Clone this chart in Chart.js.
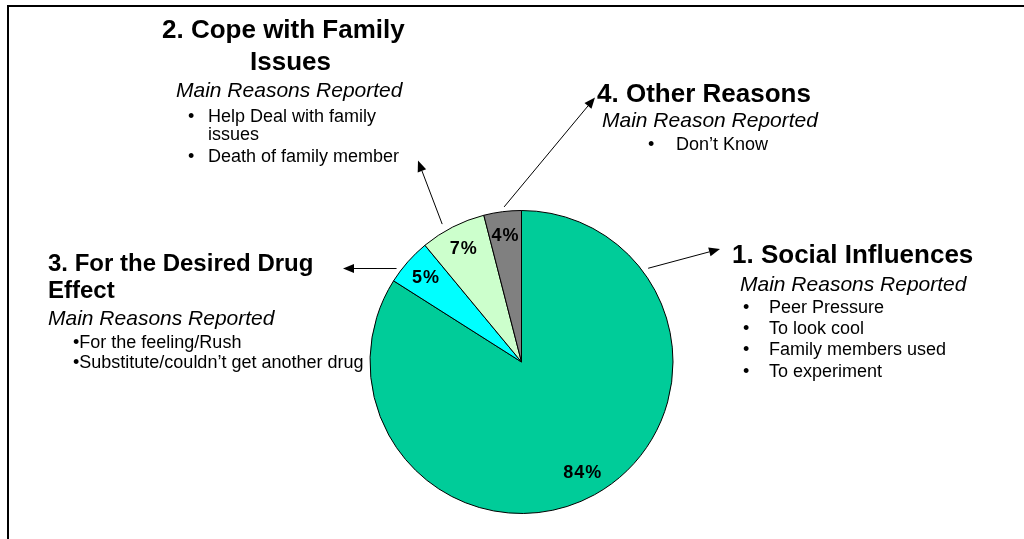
<!DOCTYPE html>
<html>
<head>
<meta charset="utf-8">
<script src="https://cdn.jsdelivr.net/npm/chart.js@4.4.1/dist/chart.umd.min.js"></script>
<style>
  body { margin: 0; background: #fff; font-family: "Liberation Sans", Arial, sans-serif; }
  #wrap { position: relative; width: 1024px; height: 539px; overflow: hidden; }
  #frame { position: absolute; left: 7px; top: 5px; width: 1100px; height: 600px; border-left: 2px solid #000; border-top: 2px solid #000; }
  #chart { position: absolute; left: 0; top: 0; }
  .t { position: absolute; white-space: nowrap; line-height: 1; color: #000; }
  .b { font-weight: bold; }
  .i { font-style: italic; }
</style>
</head>
<body>
<div id="wrap">
  <div id="frame"></div>
  <canvas id="chart" width="1024" height="539"></canvas>
  <div id="notes"></div>
</div>
<script>
// pie data (clockwise from 12 o'clock)
const categories = ['Social Influences', 'For the Desired Drug Effect', 'Cope with Family Issues', 'Other Reasons'];
const shares = [84, 5, 7, 4];
const sliceColors = ['#00CC99', '#00FFFF', '#CCFFCC', '#808080'];

// callout arrows: start angle on the pie (deg clockwise from top), radius factor, tip x/y
const arrowAngles = [53.5, 306.8, 330.1, 353.6];
const arrowRadius = [1.04, 1.03, 1.05, 1.03];
const arrowTips = [[720, 249], [343, 268.5], [418, 160.5], [595, 97.5]];

// callout text lines: [text, left, baseline, size, style]
const noteLines = [
  ['2. Cope with Family', 162, 38, 26, 'b'],
  ['Issues', 250, 70, 26, 'b'],
  ['Main Reasons Reported', 176, 97, 21, 'i'],
  ['•', 188, 122, 18, ''],
  ['Help Deal with family', 208, 122, 18, ''],
  ['issues', 208, 140, 18, ''],
  ['•', 188, 162, 18, ''],
  ['Death of family member', 208, 162, 18, ''],

  ['4. Other Reasons', 597, 102, 26, 'b'],
  ['Main Reason Reported', 602, 127, 21, 'i'],
  ['•', 648, 150, 18, ''],
  ['Don’t Know', 676, 150, 18, ''],

  ['1. Social Influences', 732, 263, 26, 'b'],
  ['Main Reasons Reported', 740, 291, 21, 'i'],
  ['•', 743, 313, 18, ''],
  ['Peer Pressure', 769, 313, 18, ''],
  ['•', 743, 334, 18, ''],
  ['To look cool', 769, 334, 18, ''],
  ['•', 743, 355, 18, ''],
  ['Family members used', 769, 355, 18, ''],
  ['•', 743, 377, 18, ''],
  ['To experiment', 769, 377, 18, ''],

  ['3. For the Desired Drug', 48, 271, 24, 'b'],
  ['Effect', 48, 298, 24, 'b'],
  ['Main Reasons Reported', 48, 325, 21, 'i'],
  ['•For the feeling/Rush', 73, 348, 18, ''],
  ['•Substitute/couldn’t get another drug', 73, 368, 18, '']
];

const notesEl = document.getElementById('notes');
notesEl.innerHTML = noteLines.map(([txt, x, base, size, cls]) => {
  const top = base - 0.8465 * size;
  return `<div class="t ${cls}" style="left:${x}px;top:${top.toFixed(1)}px;font-size:${size}px">${txt}</div>`;
}).join('');

// percent labels + arrows drawn on top of the pie
const calloutPlugin = {
  id: 'callouts',
  afterDatasetsDraw(chart) {
    const ctx = chart.ctx;
    const arcs = chart.getDatasetMeta(0).data;
    const cx = arcs[0].x, cy = arcs[0].y, R = arcs[0].outerRadius;

    ctx.save();
    ctx.fillStyle = '#000';
    ctx.font = 'bold 18px "Liberation Sans", Arial, sans-serif';
    ctx.letterSpacing = '1px';
    ctx.textAlign = 'center';
    ctx.textBaseline = 'middle';
    arcs.forEach((arc, i) => {
      const mid = (arc.startAngle + arc.endAngle) / 2;
      const r = R * 0.84;
      ctx.fillText(shares[i] + '%', cx + Math.cos(mid) * r, cy + Math.sin(mid) * r);
    });

    ctx.strokeStyle = '#000';
    ctx.lineWidth = 1;
    arrowAngles.forEach((deg, i) => {
      const a = (deg - 90) * Math.PI / 180;
      const sx = cx + Math.cos(a) * R * arrowRadius[i];
      const sy = cy + Math.sin(a) * R * arrowRadius[i];
      const [tx, ty] = arrowTips[i];
      const ang = Math.atan2(ty - sy, tx - sx);
      const len = 11, half = 4.5;
      const bx = tx - Math.cos(ang) * len, by = ty - Math.sin(ang) * len;
      ctx.beginPath();
      ctx.moveTo(sx, sy);
      ctx.lineTo(bx, by);
      ctx.stroke();
      ctx.beginPath();
      ctx.moveTo(tx, ty);
      ctx.lineTo(bx + Math.sin(ang) * half, by - Math.cos(ang) * half);
      ctx.lineTo(bx - Math.sin(ang) * half, by + Math.cos(ang) * half);
      ctx.closePath();
      ctx.fill();
    });
    ctx.restore();
  }
};

new Chart(document.getElementById('chart'), {
  type: 'pie',
  data: {
    labels: categories,
    datasets: [{
      data: shares,
      backgroundColor: sliceColors,
      borderColor: '#000',
      borderWidth: 1
    }]
  },
  options: {
    responsive: false,
    animation: false,
    layout: { padding: { left: 19, right: 0, top: 210, bottom: 25 } },
    plugins: {
      legend: { display: false },
      tooltip: { enabled: false }
    }
  },
  plugins: [calloutPlugin]
});
</script>
</body>
</html>
